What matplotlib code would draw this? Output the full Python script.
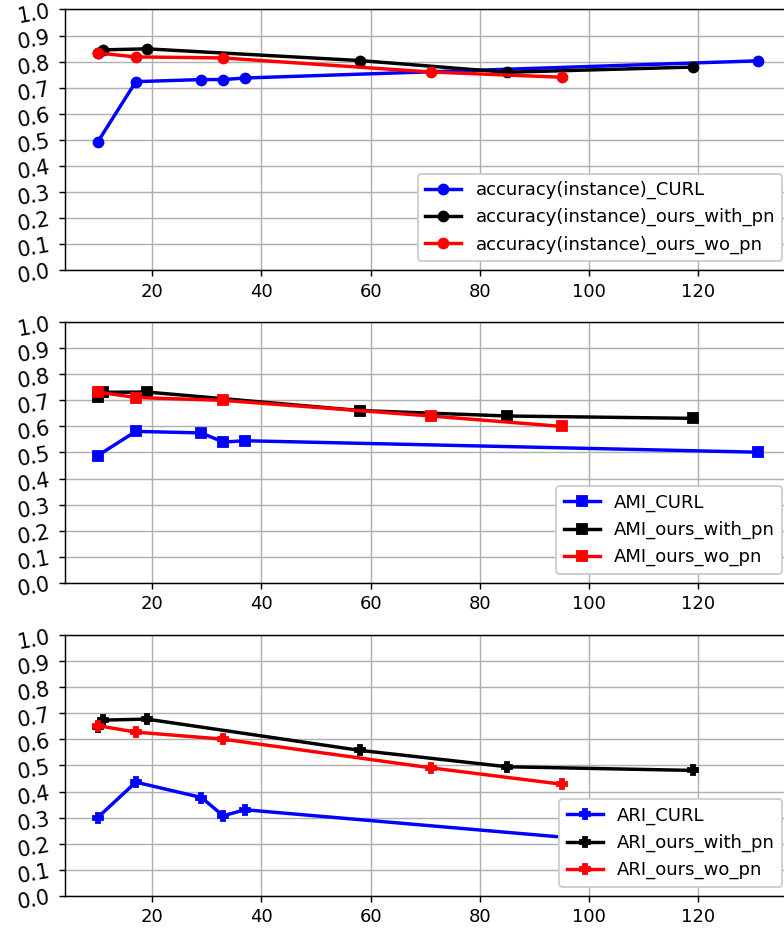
import numpy as np
import matplotlib
matplotlib.use("Agg")
import matplotlib.pyplot as plt

# x positions for each method
x_curl = [10, 17, 29, 33, 37, 131]
x_with_pn = [10, 11, 19, 58, 85, 119]
x_wo_pn = [10, 17, 33, 71, 95]

# accuracy(instance)
acc_curl = [0.491, 0.723, 0.731, 0.731, 0.737, 0.803]
acc_with_pn = [0.832, 0.845, 0.849, 0.804, 0.759, 0.779]
acc_wo_pn = [0.833, 0.818, 0.814, 0.760, 0.740]

# AMI
ami_curl = [0.488, 0.581, 0.575, 0.540, 0.545, 0.501]
ami_with_pn = [0.714, 0.731, 0.732, 0.661, 0.640, 0.631]
ami_wo_pn = [0.732, 0.711, 0.700, 0.640, 0.600]

# ARI
ari_curl = [0.300, 0.436, 0.377, 0.307, 0.330, 0.160]
ari_with_pn = [0.646, 0.674, 0.678, 0.558, 0.495, 0.481]
ari_wo_pn = [0.653, 0.628, 0.601, 0.491, 0.428]

panels = [
    ("accuracy(instance)", "o", acc_curl, acc_with_pn, acc_wo_pn),
    ("AMI", "s", ami_curl, ami_with_pn, ami_wo_pn),
    ("ARI", "P", ari_curl, ari_with_pn, ari_wo_pn),
]

fig = plt.figure(figsize=(784 / 130, 931 / 130), dpi=130)
bottoms = [0.710, 0.3741, 0.0379]
yt = np.arange(0, 1.01, 0.1)

for (name, mk, curl, with_pn, wo_pn), b in zip(panels, bottoms):
    ax = fig.add_axes([0.0824, b, 0.927, 0.2798])
    kw = dict(marker=mk, lw=1.9, ms=5.5)
    ax.plot(x_curl, curl, color="blue", label=name + "_CURL", **kw)
    ax.plot(x_with_pn, with_pn, color="black", label=name + "_ours_with_pn", **kw)
    ax.plot(x_wo_pn, wo_pn, color="red", label=name + "_ours_wo_pn", **kw)
    ax.set_ylim(0, 1)
    ax.set_yticks(yt)
    ax.set_yticklabels([f"{v:.1f}" for v in yt], rotation=10, fontsize=11.5)
    ax.grid(True)
    ax.legend(loc="lower right", framealpha=1)

fig.savefig("out.png", dpi=130)
